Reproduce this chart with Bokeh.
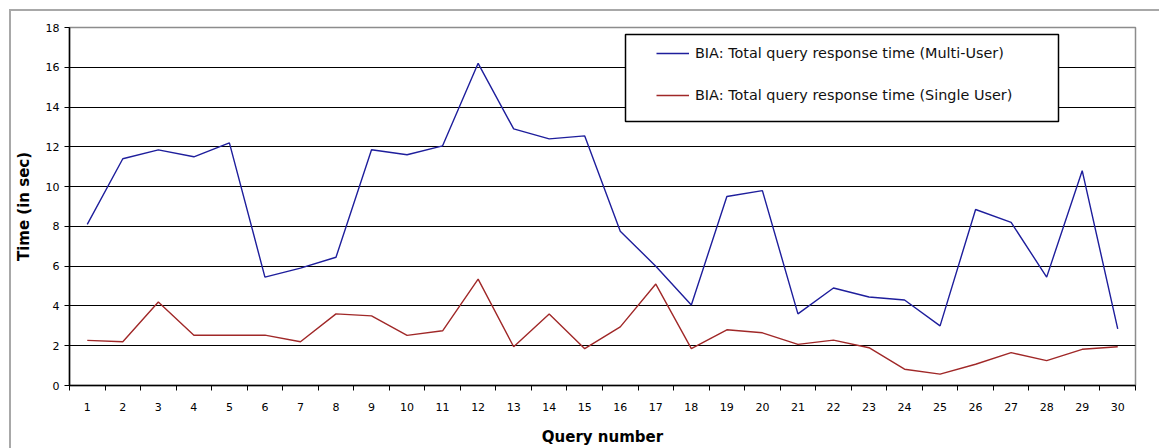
from bokeh.plotting import figure
from bokeh.models import (FixedTicker, Range1d, Legend, LegendItem, BoxAnnotation,
                          InlineStyleSheet)
from bokeh.embed import file_html
from bokeh.resources import INLINE

queries = list(range(1, 31))
multi_user = [8.1, 11.4, 11.85, 11.5, 12.2, 5.45, 5.9, 6.45, 11.85, 11.6,
              12.05, 16.2, 12.9, 12.4, 12.55, 7.75, 6.0, 4.05, 9.5, 9.8,
              3.6, 4.9, 4.45, 4.3, 3.0, 8.85, 8.2, 5.45, 10.8, 2.85]
single_user = [2.27, 2.2, 4.2, 2.53, 2.53, 2.53, 2.2, 3.6, 3.5, 2.52,
               2.75, 5.35, 1.95, 3.6, 1.85, 2.95, 5.1, 1.85, 2.8, 2.65,
               2.07, 2.28, 1.9, 0.82, 0.57, 1.07, 1.65, 1.25, 1.82, 1.95]
y_ticks = list(range(0, 19, 2))
series_names = ["BIA: Total query response time (Multi-User)",
                "BIA: Total query response time (Single User)"]
colors = ["#1e1e9c", "#a02828"]

W, H = 1159, 448
p = figure(width=W, height=H, output_backend="svg", toolbar_location=None,
           x_range=Range1d(0.5, 30.5), y_range=Range1d(0, 18),
           min_border_left=69, min_border_right=W - 1135, min_border_top=27,
           min_border_bottom=H - 387)
p.background_fill_color = "white"
p.border_fill_color = "white"
p.outline_line_color = "#8c8c8c"
p.outline_line_width = 1.5

# outer chart border drawn with CSS on the figure element
p.stylesheets = [InlineStyleSheet(css="""
:host { position: relative; overflow: hidden; }
:host::after { content: ""; position: absolute; left: 9px; top: 9px;
  width: 3000px; height: 3000px; border: 2px solid #a8a8a8;
  pointer-events: none; z-index: 10; }
""")]

# axes
xa = p.xaxis[0]
xa.ticker = FixedTicker(ticks=queries, minor_ticks=[q - 0.5 for q in queries] + [queries[-1] + 0.5])
xa.major_tick_out = 0
xa.major_tick_in = 0
xa.minor_tick_out = 5
xa.minor_tick_in = 0
xa.minor_tick_line_color = "black"
xa.axis_line_color = "black"
xa.axis_line_width = 1.5
xa.major_label_standoff = 12
xa.major_label_text_font = "DejaVu Sans"
xa.major_label_text_font_size = "11px"
xa.major_label_text_color = "black"
xa.axis_label = "Query number"
xa.axis_label_text_font = "DejaVu Sans"
xa.axis_label_text_font_style = "bold"
xa.axis_label_text_font_size = "15px"
xa.axis_label_text_color = "black"
xa.axis_label_standoff = 14

ya = p.yaxis[0]
ya.ticker = FixedTicker(ticks=y_ticks)
ya.major_tick_out = 5
ya.major_tick_in = 0
ya.minor_tick_out = 0
ya.minor_tick_in = 0
ya.axis_line_color = "black"
ya.axis_line_width = 1.5
ya.major_label_standoff = 5
ya.major_label_text_font = "DejaVu Sans"
ya.major_label_text_font_size = "11px"
ya.major_label_text_color = "black"
ya.axis_label = "Time (in sec)"
ya.axis_label_text_font = "DejaVu Sans"
ya.axis_label_text_font_style = "bold"
ya.axis_label_text_font_size = "15px"
ya.axis_label_text_color = "black"
ya.axis_label_standoff = 10

p.xgrid.visible = False
p.ygrid.ticker = FixedTicker(ticks=y_ticks[1:-1])
p.ygrid.grid_line_color = "black"
p.ygrid.grid_line_width = 1.2

r1 = p.line(queries, multi_user, line_color=colors[0], line_width=1.4)
r2 = p.line(queries, single_user, line_color=colors[1], line_width=1.4)

# legend box
p.add_layout(BoxAnnotation(left=625, top=34, right=1058, bottom=121,
                           left_units="canvas", right_units="canvas",
                           top_units="canvas", bottom_units="canvas",
                           fill_color="white", fill_alpha=1,
                           line_color="black", line_alpha=1, line_width=1.5))

legend = Legend(items=[LegendItem(label=series_names[0], renderers=[r1]),
                       LegendItem(label=series_names[1], renderers=[r2])],
                location=(587, 280), padding=0, margin=0, spacing=22,
                label_height=20, glyph_height=20, glyph_width=33, label_standoff=6,
                label_text_font="DejaVu Sans", label_text_font_size="14.4px",
                label_text_color="#111111",
                border_line_alpha=0, background_fill_alpha=0)
p.add_layout(legend)

open("out.html", "w").write(file_html(p, INLINE))
